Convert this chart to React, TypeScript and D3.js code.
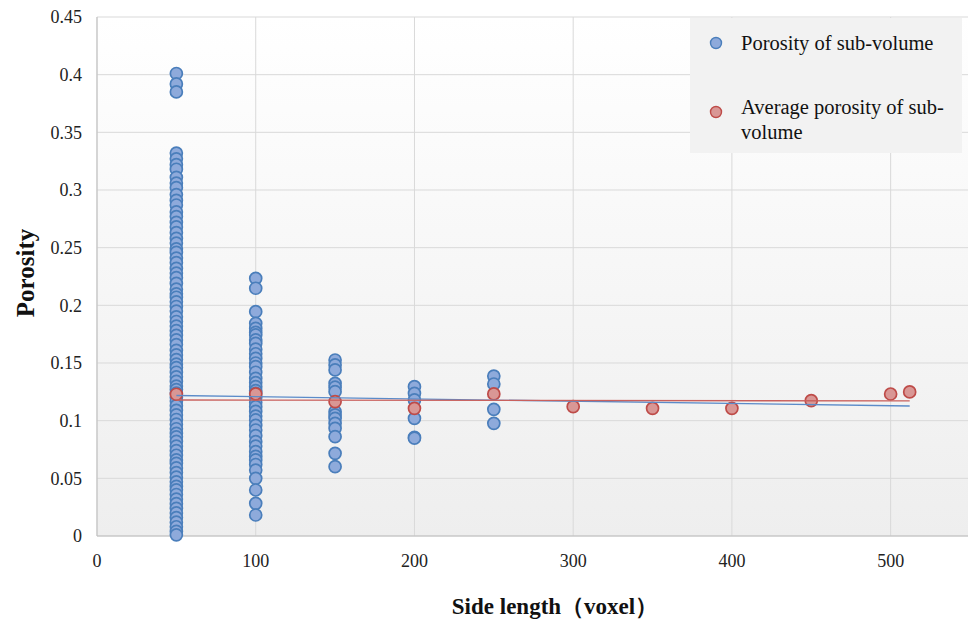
import React from "react";
import * as d3 from "d3";

// Blue series: Porosity of sub-volume (side length -> porosity values)
const sideLengths = [50, 100, 150, 200, 250];
const porosity50 = [0.401, 0.392, 0.385, 0.332, 0.327, 0.322, 0.318, 0.311, 0.306, 0.302, 0.296, 0.291, 0.287, 0.281, 0.277, 0.272, 0.268, 0.263, 0.258, 0.254, 0.249, 0.246, 0.241, 0.237, 0.232, 0.228, 0.224, 0.219, 0.214, 0.21, 0.207, 0.203, 0.199, 0.195, 0.19, 0.186, 0.182, 0.178, 0.174, 0.17, 0.166, 0.161, 0.157, 0.153, 0.149, 0.146, 0.142, 0.138, 0.134, 0.13, 0.127, 0.124, 0.12, 0.117, 0.113, 0.109, 0.105, 0.101, 0.097, 0.093, 0.089, 0.086, 0.082, 0.078, 0.074, 0.07, 0.066, 0.063, 0.059, 0.055, 0.051, 0.047, 0.043, 0.04, 0.036, 0.032, 0.028, 0.024, 0.02, 0.016, 0.012, 0.008, 0.004, 0.001];
const porosity100 = [0.2234, 0.2148, 0.1945, 0.1844, 0.18, 0.1765, 0.1743, 0.17, 0.167, 0.162, 0.158, 0.154, 0.15, 0.1468, 0.142, 0.1367, 0.133, 0.1295, 0.126, 0.1237, 0.12, 0.116, 0.1121, 0.108, 0.104, 0.1006, 0.096, 0.0919, 0.087, 0.0818, 0.078, 0.0731, 0.069, 0.066, 0.062, 0.0572, 0.05, 0.0399, 0.0283, 0.0182];
const porosity150 = [0.1526, 0.1483, 0.144, 0.1324, 0.129, 0.1251, 0.1078, 0.105, 0.102, 0.0977, 0.0934, 0.0861, 0.0717, 0.0601];
const porosity200 = [0.1295, 0.1237, 0.118, 0.102, 0.0856, 0.0848];
const porosity250 = [0.1387, 0.1318, 0.1098, 0.0977];
const porosityBySide = [porosity50, porosity100, porosity150, porosity200, porosity250];

// Red series: Average porosity of sub-volume
const avgSide = [50, 100, 150, 200, 250, 300, 350, 400, 450, 500, 512];
const avgPorosity = [0.1229, 0.1232, 0.1165, 0.1107, 0.1232, 0.1121, 0.1107, 0.1107, 0.1173, 0.1231, 0.1249];

// Linear trend lines (endpoints)
const trendX = [50, 512];
const trendBlue = [0.1218, 0.1127];
const trendRed = [0.1179, 0.1171];

// Axis ticks
const xTicks = [0, 100, 200, 300, 400, 500];
const yTicks = [0, 0.05, 0.1, 0.15, 0.2, 0.25, 0.3, 0.35, 0.4, 0.45];

const W = 968;
const H = 619;
const left = 97;
const top = 17;
const bottom = 536;
const right = 970;

export default function App() {
  const x = d3.scaleLinear().domain([0, 550]).range([left, right]);
  const y = d3.scaleLinear().domain([0, 0.45]).range([bottom, top]);

  const bluePts: [number, number][] = [];
  sideLengths.forEach((s, i) => porosityBySide[i].forEach((v) => bluePts.push([s, v])));
  const redPts: [number, number][] = avgSide.map((s, i) => [s, avgPorosity[i]]);

  const line = d3
    .line<[number, number]>()
    .x((d) => x(d[0]))
    .y((d) => y(d[1]));
  const blueTrend = trendX.map((s, i) => [s, trendBlue[i]] as [number, number]);
  const redTrend = trendX.map((s, i) => [s, trendRed[i]] as [number, number]);

  const serif = "'Liberation Serif', 'Times New Roman', serif";
  const blueFill = "#8eaadb";
  const blueStroke = "#4a7ebb";
  const redFill = "#d99795";
  const redStroke = "#be4b48";

  return (
    <svg
      width={W}
      height={H}
      style={{ position: "absolute", left: 0, top: 0, background: "#fff" }}
      fontFamily={serif}
    >
      <defs>
        <linearGradient id="bg" x1="0" y1="0" x2="0" y2="1">
          <stop offset="0" stopColor="#ffffff" />
          <stop offset="1" stopColor="#eeeeee" />
        </linearGradient>
      </defs>
      <rect x={left} y={top} width={right - left} height={bottom - top} fill="url(#bg)" />
      {yTicks.map((t) => (
        <line key={"gy" + t} x1={left} x2={right} y1={y(t)} y2={y(t)} stroke="#d9d9d9" strokeWidth={1} />
      ))}
      {xTicks.map((t) => (
        <line key={"gx" + t} x1={x(t)} x2={x(t)} y1={top} y2={bottom} stroke="#d9d9d9" strokeWidth={1} />
      ))}
      <line x1={left} x2={left} y1={top} y2={bottom} stroke="#bfbfbf" />
      <line x1={left} x2={right} y1={bottom} y2={bottom} stroke="#bfbfbf" />

      {yTicks.map((t) => (
        <text key={"ty" + t} x={82} y={y(t)} dy="0.35em" textAnchor="end" fontSize={18} fill="#222">
          {String(t)}
        </text>
      ))}
      {xTicks.map((t) => (
        <text key={"tx" + t} x={x(t)} y={567} textAnchor="middle" fontSize={18} fill="#222">
          {String(t)}
        </text>
      ))}

      <g>
        {bluePts.map((d, i) => (
          <circle key={"b" + i} cx={x(d[0])} cy={y(d[1])} r={6} fill={blueFill} stroke={blueStroke} strokeWidth={1.7} />
        ))}
        {redPts.map((d, i) => (
          <circle key={"r" + i} cx={x(d[0])} cy={y(d[1])} r={6} fill={redFill} stroke={redStroke} strokeWidth={1.7} />
        ))}
        <path d={line(blueTrend) || ""} fill="none" stroke="#5b8bc9" strokeWidth={1.3} />
        <path d={line(redTrend) || ""} fill="none" stroke="#c9605d" strokeWidth={1.3} />
      </g>

      <rect x={690} y={18} width={272} height={135} fill="#f2f2f2" />
      <circle cx={716} cy={43} r={5.5} fill={blueFill} stroke={blueStroke} strokeWidth={1.4} />
      <text x={741} y={50} fontSize={20.5} fill="#111">Porosity of sub-volume</text>
      <circle cx={716} cy={112} r={5.5} fill={redFill} stroke={redStroke} strokeWidth={1.4} />
      <text x={741} y={114} fontSize={20.5} fill="#111">Average porosity of sub-</text>
      <text x={741} y={139} fontSize={20.5} fill="#111">volume</text>

      <text
        transform="translate(25,273) rotate(-90)"
        textAnchor="middle"
        dy="0.35em"
        fontSize={25}
        fontWeight="bold"
        fill="#111"
      >
        Porosity
      </text>
      <text x={555} y={614} textAnchor="middle" fontSize={23} fontWeight="bold" fill="#111">
        Side length（voxel）
      </text>
    </svg>
  );
}
